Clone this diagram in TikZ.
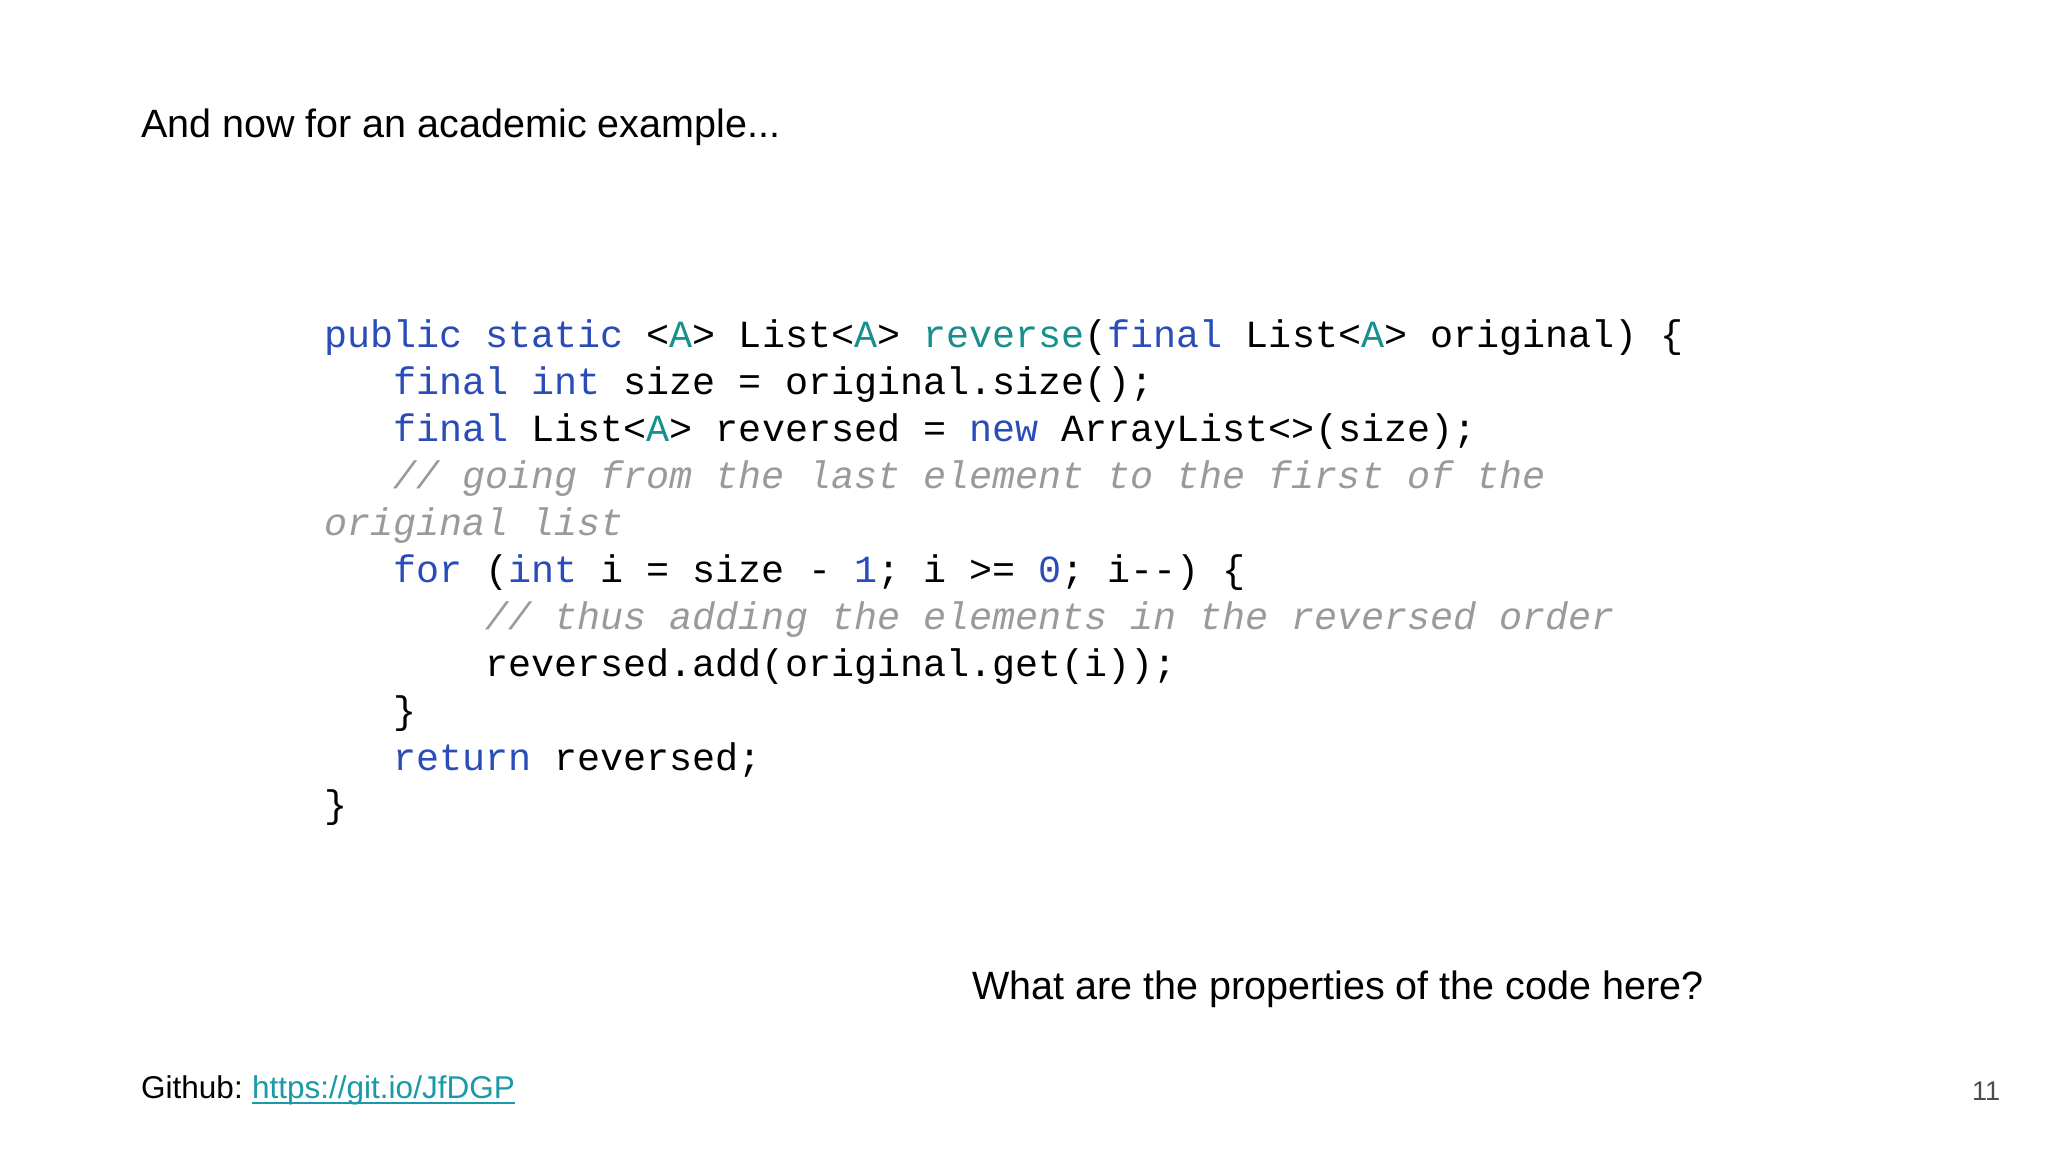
\documentclass[tikz,border=0pt]{standalone}
\usepackage{fontspec}
\setmainfont{Liberation Sans}
\newfontfamily\codefont{Liberation Mono}
\definecolor{kw}{HTML}{2A4CB8}
\definecolor{ty}{HTML}{16908C}
\definecolor{cm}{HTML}{9A9A9A}
\definecolor{lnk}{HTML}{1A9AA8}
\begin{document}
\begin{tikzpicture}[x=1pt,y=-1pt,
  cl/.style={anchor=base west,inner sep=0pt,font=\codefont\fontsize{38.4}{40}\selectfont},
  tx/.style={anchor=base west,inner sep=0pt}]
\useasboundingbox[fill=white] (0,0) rectangle (2048,1152);
\newcommand{\K}[1]{\textcolor{kw}{#1}}
\newcommand{\T}[1]{\textcolor{ty}{#1}}
\newcommand{\C}[1]{\textcolor{cm}{\itshape #1}}
\def\cx{324}\def\cw{23.04}
\node[tx,font=\fontsize{39.5}{42}\selectfont] (title) at (141,137) {And now for an academic example...};
\node[cl] (l1) at (\cx,347) {\K{public static} <\T{A}> List<\T{A}> \T{reverse}(\K{final} List<\T{A}> original) \{};
\node[cl] (l2) at (\cx+3*\cw,394) {\K{final int} size = original.size();};
\node[cl] (l3) at (\cx+3*\cw,441) {\K{final} List<\T{A}> reversed = \K{new} ArrayList<>(size);};
\node[cl] (l4) at (\cx+3*\cw,488) {\C{// going from the last element to the first of the}};
\node[cl] (l5) at (\cx,535) {\C{original list}};
\node[cl] (l6) at (\cx+3*\cw,582) {\K{for} (\K{int} i = size - \K{1}; i >= \K{0}; i--) \{};
\node[cl] (l7) at (\cx+7*\cw,629) {\C{// thus adding the elements in the reversed order}};
\node[cl] (l8) at (\cx+7*\cw,676) {reversed.add(original.get(i));};
\node[cl] (l9) at (\cx+3*\cw,723) {\}};
\node[cl] (l10) at (\cx+3*\cw,770) {\K{return} reversed;};
\node[cl] (l11) at (\cx,817) {\}};
\node[tx,font=\fontsize{39.5}{42}\selectfont] (q) at (972,999) {What are the properties of the code here?};
\node[tx,font=\fontsize{31.5}{33}\selectfont] (gh) at (141,1098) {Github:};
\node[tx,font=\fontsize{31.5}{33}\selectfont,text=lnk] (link) at ([xshift=9pt]gh.base east) {https://git.io/JfDGP};
\draw[lnk,line width=2pt] ([yshift=-5pt]link.base west) -- ([yshift=-5pt]link.base east);
\node[tx,font=\fontsize{27}{29}\selectfont,text=black!70] (pg) at (1972,1100) {11};
\end{tikzpicture}
\end{document}
